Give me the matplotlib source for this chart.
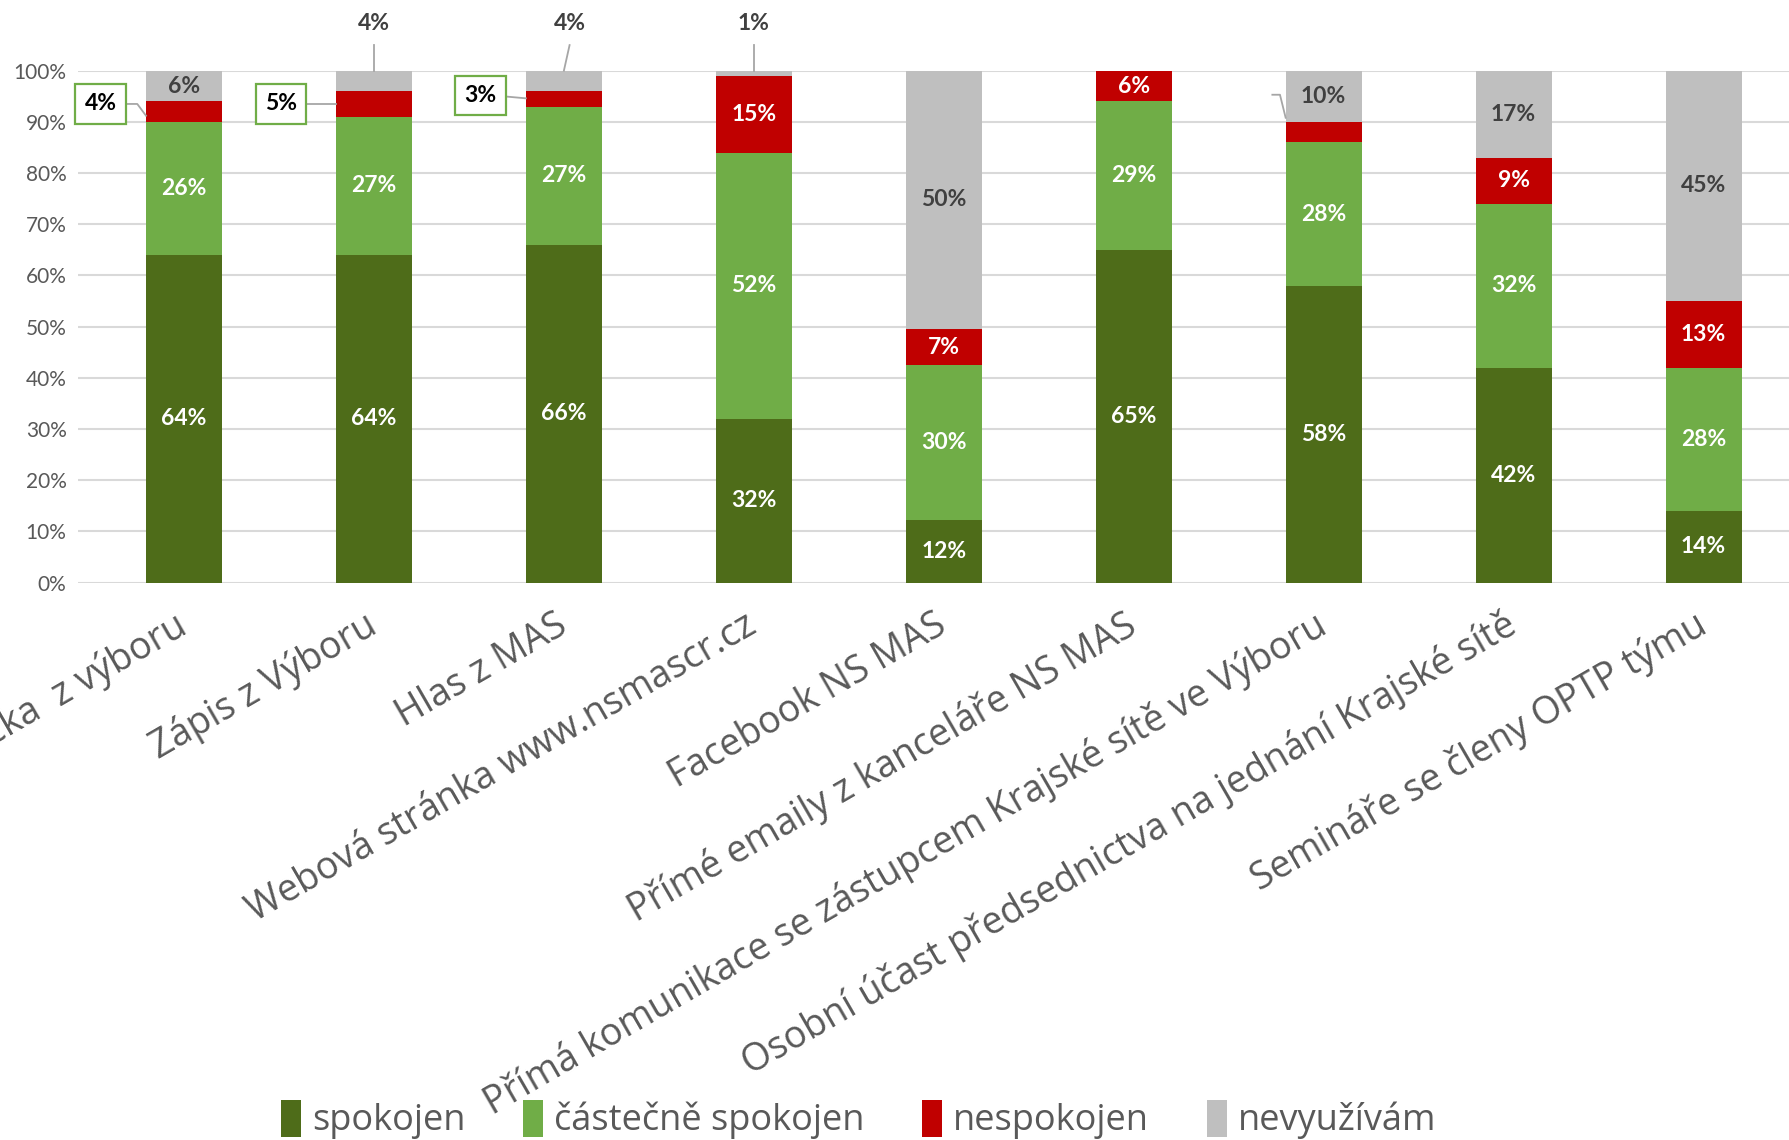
import numpy as np
import matplotlib
matplotlib.use('Agg')
import matplotlib.pyplot as plt

plt.rcParams['font.family'] = ['Lato', 'DejaVu Sans']

# data (percent)
categories = ['Zprávička  z výboru', 'Zápis z Výboru', 'Hlas z MAS', 'Webová stránka www.nsmascr.cz',
              'Facebook NS MAS', 'Přímé emaily z kanceláře NS MAS',
              'Přímá komunikace se zástupcem Krajské sítě ve Výboru',
              'Osobní účast předsednictva na jednání Krajské sítě', 'Semináře se členy OPTP týmu']
spokojen = [64, 64, 66, 32, 12, 65, 58, 42, 14]
castecne = [26, 27, 27, 52, 30, 29, 28, 32, 28]
nespokojen = [4, 5, 3, 15, 7, 6, 4, 9, 13]
nevyuzivam = [6, 4, 4, 1, 50, 0, 10, 17, 45]
series_names = ['spokojen', 'částečně spokojen', 'nespokojen', 'nevyužívám']
colors = ['#4E6C19', '#70AD47', '#C00000', '#BFBFBF']
label_colors = ['white', 'white', 'white', '#404040']

data = np.array([spokojen, castecne, nespokojen, nevyuzivam], dtype=float)
shares = data / data.sum(axis=0) * 100  # 100% stacked like Excel

fig = plt.figure(figsize=(17.89, 11.40), dpi=100)
ax = fig.add_axes([0.0434, 0.489, 0.9566, 0.449])

x = np.arange(len(categories))
bottom = np.zeros(len(categories))
for i in range(4):
    ax.bar(x, shares[i], 0.4, bottom=bottom, color=colors[i], label=series_names[i], zorder=2)
    for j in range(len(categories)):
        if data[i, j] > 5:
            ax.text(x[j], bottom[j] + shares[i, j] / 2, f'{int(data[i, j])}%', ha='center', va='center',
                    color=label_colors[i], fontsize=16.5, fontweight='bold', zorder=3)
    bottom += shares[i]

lc = '#A6A6A6'
# boxed labels for small red segments, with leader lines
boxes = [(0, -0.44, 93.5), (1, 0.51, 93.5), (2, 1.56, 95.1)]
for j, tx, ty in boxes:
    ax.text(tx, ty, f'{int(nespokojen[j])}%', ha='center', va='center', fontsize=16.5, fontweight='bold',
            color='black', zorder=4, clip_on=False,
            bbox=dict(boxstyle='square,pad=0.4', fc='white', ec='#70AD47', lw=1.6))
ax.plot([-0.33, -0.246, -0.2], [93.5, 93.5, 91.2], color=lc, lw=1.3, clip_on=False, zorder=3)
ax.plot([0.6, 0.8], [93.5, 93.5], color=lc, lw=1.3, clip_on=False, zorder=3)
ax.plot([1.65, 1.8], [95.1, 94.6], color=lc, lw=1.3, clip_on=False, zorder=3)

# small grey segments labelled above the bars
for j in [1, 2, 3]:
    tx = x[j] + (0.03 if j == 2 else 0)
    ax.text(tx, 109.3, f'{int(nevyuzivam[j])}%', ha='center', va='center', fontsize=16.5,
            fontweight='bold', color='#404040', clip_on=False)
    ax.plot([tx, x[j]], [105, 100], color=lc, lw=1.3, clip_on=False, zorder=3)

# leader line of the hidden label on bar 7
ax.plot([5.73, 5.77, 5.8], [95.3, 95.3, 90.8], color=lc, lw=1.3, clip_on=False, zorder=3)

ax.set_xlim(-0.56, 8.45)
ax.set_ylim(0, 100)
ax.set_yticks(np.arange(0, 101, 10))
ax.set_yticklabels([f'{v}%' for v in range(0, 101, 10)], fontsize=15, color='#595959')
ax.set_xticks(x)
ax.set_xticklabels(categories, rotation=30, ha='right', va='center', rotation_mode='anchor',
                   fontsize=27, color='#595959', family=['Open Sans', 'DejaVu Sans'])
ax.tick_params(axis='x', length=0, pad=29)
ax.tick_params(axis='y', length=0, pad=8)
ax.grid(axis='y', color='#D9D9D9', lw=1.5, zorder=0)
for s in ax.spines.values():
    s.set_visible(False)

fig.legend(loc='center', bbox_to_anchor=(0.48, 0.018), ncol=4, frameon=False,
           prop={'family': ['Open Sans', 'DejaVu Sans'], 'size': 26},
           handlelength=0.55, handleheight=1.2, handletextpad=0.3, columnspacing=1.6,
           labelcolor='#595959')

fig.savefig('out.png', dpi=100)
